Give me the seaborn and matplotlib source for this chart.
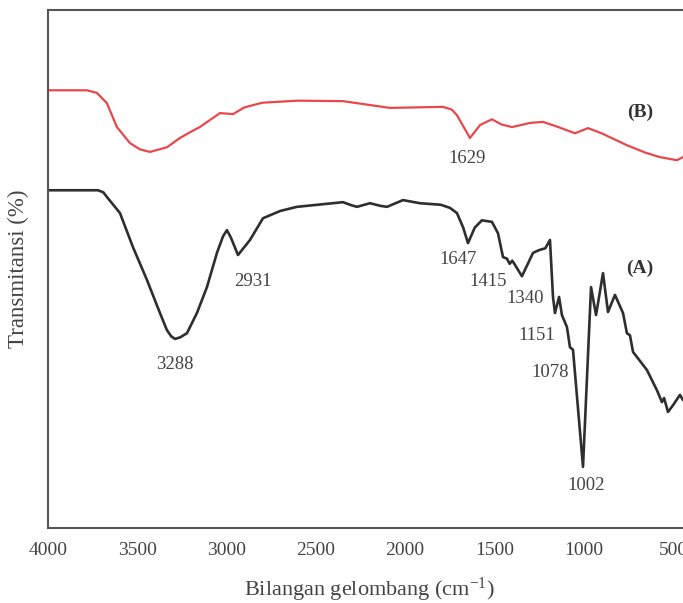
import numpy as np
import pandas as pd
import matplotlib
matplotlib.use("Agg")
import matplotlib.pyplot as plt
import seaborn as sns

# ---- data ----
wn_A = [4000, 3720, 3690, 3670, 3597, 3524, 3446, 3373, 3334, 3310, 3289, 3260,
        3222, 3166, 3110, 3054, 3020, 2998, 2975, 2936, 2869, 2796, 2700, 2606,
        2348, 2300, 2270, 2197, 2140, 2102, 2012, 1917, 1800, 1749, 1710, 1675,
        1648, 1610, 1570, 1514, 1480, 1452, 1430, 1415, 1400, 1385, 1346, 1284,
        1260, 1245, 1215, 1189, 1172, 1161, 1138, 1122, 1094, 1077, 1060, 1004,
        959, 931, 892, 864, 825, 780, 758, 741, 724, 646, 590, 562, 550, 528,
        500, 461, 444]
T_A = [65.2, 65.2, 64.8, 63.9, 60.8, 54.2, 47.9, 41.5, 38.2, 37.0, 36.5, 36.8,
       37.6, 41.5, 46.5, 53.1, 56.3, 57.5, 56.0, 52.7, 55.6, 59.8, 61.2, 62.0,
       62.9, 62.3, 62.0, 62.7, 62.2, 62.0, 63.3, 62.7, 62.4, 61.8, 60.8, 58.0,
       55.0, 58.0, 59.4, 59.1, 56.9, 52.3, 52.0, 51.0, 51.6, 50.8, 48.6, 53.1,
       53.5, 53.7, 54.0, 55.6, 44.6, 41.5, 44.6, 41.1, 38.8, 34.9, 34.4, 11.8,
       46.5, 41.1, 49.2, 41.7, 45.0, 41.5, 37.6, 37.2, 34.0, 30.5, 26.6, 24.3,
       25.1, 22.4, 23.7, 25.7, 24.7]

wn_B = [4000, 3782, 3726, 3670, 3614, 3541, 3485, 3429, 3334, 3261, 3205, 3150,
        3037, 2964, 2900, 2800, 2600, 2348, 2085, 1788, 1740, 1710, 1637, 1580,
        1514, 1460, 1402, 1300, 1228, 1150, 1049, 976, 900, 758, 650, 573, 478,
        444]
T_B = [84.5, 84.5, 84.0, 82.0, 77.4, 74.3, 73.1, 72.6, 73.5, 75.3, 76.4, 77.4,
       80.1, 79.9, 81.2, 82.1, 82.5, 82.4, 81.1, 81.3, 80.8, 79.7, 75.3, 77.8,
       78.9, 77.9, 77.4, 78.2, 78.4, 77.5, 76.2, 77.2, 76.2, 73.9, 72.4, 71.6,
       71.0, 71.6]

peak_labels = ["3288", "2931", "1629", "1647", "1415", "1340", "1151", "1078", "1002"]
peak_x = [3289, 2852, 1654, 1704, 1536, 1329, 1262, 1189, 987]
peak_y = [31.5, 47.5, 71.4, 51.9, 47.5, 44.4, 37.2, 30.1, 8.3]

series_labels = ["(B)", "(A)"]
series_lx = [685, 685]
series_ly = [80.3, 50.2]

xticks = [4000, 3500, 3000, 2500, 2000, 1500, 1000, 500]

df_A = pd.DataFrame({"wn": wn_A, "T": T_A})
df_B = pd.DataFrame({"wn": wn_B, "T": T_B})

sns.set_style("white")
plt.rcParams["font.family"] = ["Liberation Serif", "DejaVu Serif"]
plt.rcParams["mathtext.fontset"] = "custom"
plt.rcParams["mathtext.rm"] = "Liberation Serif"
plt.rcParams["mathtext.it"] = "Liberation Serif:italic"

W, H = 683, 603
fig = plt.figure(figsize=(W / 100, H / 100), dpi=100)
left = 48 / W
bottom = (H - 528) / H
height = (528 - 10) / H
width = 0.94
ax = fig.add_axes([left, bottom, width, height])

sns.lineplot(data=df_A, x="wn", y="T", ax=ax, color="#2e2e2e", linewidth=1.9,
             sort=False, estimator=None)
sns.lineplot(data=df_B, x="wn", y="T", ax=ax, color="#e8474c", linewidth=1.6,
             sort=False, estimator=None)

# x pixel -> data: 4000 at px 48, 5.6 wavenumbers per pixel
ax.set_xlim(4000, 4000 - width * W * 5.6)
ax.set_ylim(0, 100)
ax.set_xticks(xticks)
ax.set_xticklabels([str(t) for t in xticks], fontsize=14, color="#444444")
ax.set_yticks([])
ax.tick_params(axis="x", length=0, pad=10)

for s in ["left", "bottom", "top", "right"]:
    ax.spines[s].set_color("#555555")
    ax.spines[s].set_linewidth(1.5)

for lab, x, y in zip(peak_labels, peak_x, peak_y):
    ax.text(x, y, lab, ha="center", va="center", fontsize=13.5, color="#444444")
for lab, x, y in zip(series_labels, series_lx, series_ly):
    ax.text(x, y, lab, ha="center", va="center", fontsize=14, fontweight="bold",
            color="#333333")

ax.set_xlabel("Bilangan gelombang (cm$^{\\mathrm{-1}}$)", fontsize=16,
              color="#444444", labelpad=12)
ax.set_ylabel("Transmitansi (%)", fontsize=16.5, color="#444444", labelpad=14)

fig.savefig("out.png", dpi=100)
